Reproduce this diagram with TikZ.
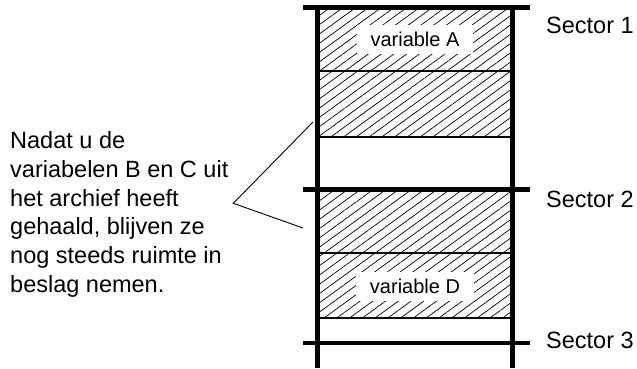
\documentclass[tikz,border=0pt]{standalone}
\usepackage{fontspec}
\setmainfont{Liberation Sans}
\usetikzlibrary{patterns.meta}

\begin{document}
\begin{tikzpicture}[
    x=1pt, y=-1pt,
    arcering/.style={draw=black!55, line width=0.6pt,
                     pattern={Lines[angle=36, distance=7.5pt, line width=0.7pt]}},
    balk/.style={line width=4.5pt},
    scheiding/.style={line width=2.5pt},
    etiket/.style={font=\fontsize{23.5}{28.7}\selectfont, inner sep=0pt,
                   anchor=base west},
    naam/.style={fill=white, font=\fontsize{20}{23}\selectfont,
                 inner xsep=14pt, inner ysep=7pt},
    wijzer/.style={line width=0.9pt}
  ]
  \useasboundingbox (0,0) rectangle (637,368);

  % gearceerde vakken
  \foreach \a/\b in {7.5/71, 71/137, 189.3/253, 253/318}
    {\draw[arcering] (317.5,\a) rectangle (512.5,\b);}

  \node[naam] (varA) at (415,39.6) {variable A};
  \node[naam] (varD) at (415,286.2) {variable D};

  \foreach \y in {71, 137, 253, 318}
    {\draw[scheiding] (317.5,\y) -- (512.5,\y);}

  % balken en sectorgrenzen
  \draw[balk] (317.5,5.25) -- (317.5,368);
  \draw[balk] (512.5,5.25) -- (512.5,368);
  \foreach \y/\t/\n in {7.5/33/1, 189.3/207.7/2, 343/348/3}
    {\draw[balk] (303,\y) -- (530,\y);
     \node[etiket] (sector\n) at (546,\t) {Sector \n};}

  % uitleg links
  \node[etiket, anchor=north west, align=left] (uitleg) at (10,131.5)
    {Nadat u de\\variabelen B en C uit\\het archief heeft\\
     gehaald, blijven ze\\nog steeds ruimte in\\beslag nemen.};

  \coordinate (punt) at (233.3,203.3);
  \coordinate (naarB) at (313,122);
  \coordinate (naarC) at (303,228);
  \draw[wijzer] (naarB) -- (punt) -- (naarC);
\end{tikzpicture}
\end{document}
